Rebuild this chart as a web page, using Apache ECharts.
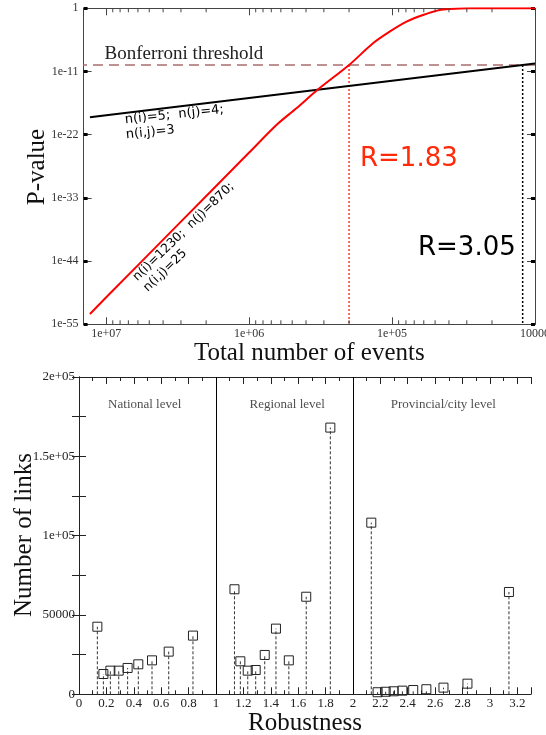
<!DOCTYPE html>
<html><head><meta charset="utf-8">
<script src="https://cdn.jsdelivr.net/npm/echarts@6/dist/echarts.min.js"></script>
<style>html,body{margin:0;padding:0;background:#fff}#c{width:546px;height:735px}</style>
</head><body><div id="c"></div>
<script>
// ---------- Top panel: P-value vs total number of events ----------
const redN = [1.30e7, 1.0e7, 3.16e6, 1.0e6, 6.31e5, 4.67e5, 3.29e5, 2.0e5, 1.36e5, 1.04e5, 7.93e4, 6.07e4, 4.65e4, 3.95e4, 2.86e4, 1.0e4];
const redP = [6.3e-54, 5.0e-51, 2.0e-38, 7.9e-26, 7.9e-21, 4.0e-18, 7.9e-15, 1.35e-10, 8.1e-7, 8.5e-5, 4.7e-3, 6.8e-2, 0.50, 0.76, 1, 1];
const blackN = [1.30e7, 1.0e7, 1.0e6, 1.0e5, 1.0e4];
const blackP = [1.1e-19, 2.5e-19, 2.5e-16, 2.5e-13, 2.5e-10];
const bonferroniP = 1.35e-10;
const nRangeTop = [1.0e4, 1.44e7];
const pRangeTop = [9.99e-56, 1];
const cutRed = 2.0e5;     // R=1.83
const cutBlack = 1.22e4;  // R=3.05
const minorTickN = [2e4,3e4,4e4,5e4,6e4,7e4,8e4,9e4, 2e5,3e5,4e5,5e5,6e5,7e5,8e5,9e5, 2e6,3e6,4e6,5e6,6e6,7e6,8e6,9e6];

// ---------- Bottom panel: number of links vs robustness ----------
const robustness = [0.134, 0.178, 0.229, 0.290, 0.355, 0.433, 0.533, 0.655, 0.832,
                    1.135, 1.178, 1.232, 1.290, 1.356, 1.438, 1.532, 1.659, 1.835,
                    2.134, 2.180, 2.239, 2.297, 2.361, 2.440, 2.536, 2.661, 2.836, 3.139];
const links = [42600, 12800, 14900, 14900, 16600, 18900, 21400, 26900, 37000,
               66200, 20800, 14900, 15300, 24800, 41400, 21400, 61500, 168100,
               108200, 1300, 1600, 1900, 2300, 2700, 3200, 4200, 6700, 64500];
const levelSeparators = [1, 2];
const levelNames = ['National level', 'Regional level', 'Provincial/city level'];
const levelNameX = [0.48, 1.52, 2.66];
const levelNameY = 182900;

const SERIF = "'Liberation Serif', 'Times New Roman', serif";
const SANS = "'DejaVu Sans', sans-serif";
const AX = '#222';
const AXT = '#444';

const chart = echarts.init(document.getElementById('c'), null, {renderer: 'canvas'});

function logLabelX(v) {
  const e = Math.log10(v);
  const r = Math.round(e);
  if (Math.abs(e - r) > 1e-4) return '';
  return r === 4 ? '10000' : '1e+0' + r;
}
function logLabelY(v) {
  const e = Math.log10(v);
  const r = Math.round(e);
  if (Math.abs(e - r) > 1e-4) return '';
  return r === 0 ? '1' : '1e' + r;
}
function linLabelX(v) {
  const k = Math.round(v * 10);
  if (Math.abs(v * 10 - k) > 1e-6 || k % 2) return '';
  return String(k / 10);
}
function linLabelY(v) {
  if (v === 0) return '0';
  if (v >= 1e5) return (v / 1e5) + 'e+05';
  return String(v);
}

const topX = {
  gridIndex: 0, type: 'log', logBase: 10, inverse: true,
  min: nRangeTop[0], max: nRangeTop[1],
  axisLine: {show: true, onZero: false, lineStyle: {color: AXT, width: 1}},
  axisTick: {show: true, inside: true, length: 7, lineStyle: {color: AXT}},
  splitLine: {show: false}
};
const topYbase = {
  gridIndex: 0, type: 'log', logBase: 1e11, min: pRangeTop[0], max: pRangeTop[1],
  splitLine: {show: false}
};

const option = {
  animation: false,
  backgroundColor: '#fff',
  grid: [
    {left: 83.6, right: 11, top: 8.3, height: 316, containLabel: false, outerBoundsMode: 'none'},
    {left: 79, right: 15, top: 377, height: 317.3, containLabel: false, outerBoundsMode: 'none'}
  ],
  xAxis: [
    Object.assign({}, topX, {
      position: 'bottom',
      name: 'Total number of events', nameLocation: 'middle', nameGap: 15,
      nameTextStyle: {fontFamily: SERIF, fontSize: 25, color: '#111'},
      axisLabel: {formatter: logLabelX, fontFamily: SERIF, fontSize: 12, color: '#333', margin: 4, showMinLabel: true, showMaxLabel: true, hideOverlap: false}
    }),
    Object.assign({}, topX, {position: 'top', axisLabel: {show: false}}),
    {
      gridIndex: 1, type: 'value', min: 0, max: 3.3, interval: 0.2, position: 'bottom',
      name: 'Robustness', nameLocation: 'middle', nameGap: 16,
      nameTextStyle: {fontFamily: SERIF, fontSize: 25, color: '#111'},
      axisLine: {show: true, onZero: false, lineStyle: {color: AX}},
      axisTick: {show: true, inside: true, length: 7, lineStyle: {color: AX}},
      minorTick: {show: true, splitNumber: 2, length: 4, lineStyle: {color: AX}},
      axisLabel: {formatter: linLabelX, fontFamily: SERIF, fontSize: 13, color: '#222', margin: 3},
      splitLine: {show: false}
    },
    {
      gridIndex: 1, type: 'value', min: 0, max: 3.3, interval: 0.2, position: 'top',
      axisLine: {show: true, onZero: false, lineStyle: {color: AX}},
      axisTick: {show: true, inside: true, length: 7, lineStyle: {color: AX}},
      minorTick: {show: true, splitNumber: 2, length: 4, lineStyle: {color: AX}},
      axisLabel: {show: false}, splitLine: {show: false}
    }
  ],
  yAxis: [
    Object.assign({}, topYbase, {
      position: 'left',
      axisLine: {show: true, lineStyle: {color: AXT}},
      axisTick: {show: true, inside: true, length: 8, lineStyle: {color: AXT}},
      axisLabel: {formatter: logLabelY, fontFamily: SERIF, fontSize: 12, color: '#333', margin: 5, showMinLabel: true, showMaxLabel: true, hideOverlap: false}
    }),
    Object.assign({}, topYbase, {
      position: 'right',
      axisLine: {show: true, lineStyle: {color: AXT}},
      axisTick: {show: true, inside: true, length: 8, lineStyle: {color: AXT}},
      axisLabel: {show: false}
    }),
    Object.assign({}, topYbase, {
      position: 'left', axisLine: {show: false},
      axisTick: {show: true, inside: true, length: 4, lineStyle: {color: '#000', width: 3}},
      axisLabel: {show: false}
    }),
    Object.assign({}, topYbase, {
      position: 'right', axisLine: {show: false},
      axisTick: {show: true, inside: true, length: 4, lineStyle: {color: '#000', width: 3}},
      axisLabel: {show: false}
    }),
    {
      gridIndex: 1, type: 'value', min: 0, max: 200000, interval: 50000, position: 'left',
      axisLine: {show: true, lineStyle: {color: AX}},
      axisTick: {show: true, inside: true, length: 7, lineStyle: {color: AX}},
      minorTick: {show: true, splitNumber: 2, length: 7, lineStyle: {color: AX}},
      axisLabel: {formatter: linLabelY, fontFamily: SERIF, fontSize: 13, color: '#222', margin: 4},
      splitLine: {show: false}
    },
    {
      gridIndex: 1, type: 'value', min: 0, max: 200000, interval: 50000, position: 'right',
      axisLine: {show: true, lineStyle: {color: AX}},
      axisTick: {show: true, inside: true, length: 7, lineStyle: {color: AX}},
      minorTick: {show: true, splitNumber: 2, length: 7, lineStyle: {color: AX}},
      axisLabel: {show: false}, splitLine: {show: false}
    }
  ],
  series: [
    {
      type: 'line', xAxisIndex: 0, yAxisIndex: 0, z: 3,
      data: [[nRangeTop[0], bonferroniP], [nRangeTop[1], bonferroniP]],
      showSymbol: false, symbol: 'none',
      lineStyle: {color: '#bf9090', width: 2, type: [10, 6]}
    },
    {
      type: 'line', xAxisIndex: 0, yAxisIndex: 0, z: 4,
      data: [[cutRed, bonferroniP], [cutRed, pRangeTop[0]]],
      symbol: 'none', lineStyle: {color: '#ff3a1a', width: 1.5, type: [2, 2]}
    },
    {
      type: 'line', xAxisIndex: 0, yAxisIndex: 0, z: 4,
      data: [[cutBlack, bonferroniP], [cutBlack, pRangeTop[0]]],
      symbol: 'none', lineStyle: {color: '#000', width: 1.5, type: [2, 2]}
    },
    {
      type: 'line', xAxisIndex: 0, yAxisIndex: 0, z: 5,
      data: blackN.map((n, i) => [n, blackP[i]]),
      symbol: 'none', lineStyle: {color: '#000', width: 2}
    },
    {
      type: 'line', xAxisIndex: 0, yAxisIndex: 0, z: 6,
      data: redN.map((n, i) => [n, redP[i]]),
      symbol: 'none', smooth: 0.3,
      lineStyle: {color: '#ff0000', width: 2}
    },
    {
      type: 'custom', xAxisIndex: 0, yAxisIndex: 0, z: 7, clip: false,
      data: minorTickN.map(n => [n, 1e-20]),
      renderItem: function (params, api) {
        const cs = params.coordSys;
        const x = api.coord([api.value(0), api.value(1)])[0];
        const top = cs.y, bot = cs.y + cs.height;
        return {type: 'group', children: [
          {type: 'line', shape: {x1: x, y1: bot, x2: x, y2: bot - 4}, style: {stroke: AXT, lineWidth: 1}},
          {type: 'line', shape: {x1: x, y1: top, x2: x, y2: top + 4}, style: {stroke: AXT, lineWidth: 1}}
        ]};
      }
    },
    {
      type: 'line', xAxisIndex: 2, yAxisIndex: 4, data: [], symbol: 'none',
      markLine: {
        silent: true, symbol: 'none', label: {show: false},
        lineStyle: {color: '#000', width: 1, type: 'solid'},
        data: levelSeparators.map(v => ({xAxis: v}))
      }
    },
    {
      type: 'custom', xAxisIndex: 2, yAxisIndex: 4, z: 5,
      data: robustness.map((r, i) => [r, links[i]]),
      renderItem: function (params, api) {
        const p = api.coord([api.value(0), api.value(1)]);
        const b = api.coord([api.value(0), 0]);
        const s = 9;
        return {type: 'group', children: [
          {type: 'line', shape: {x1: b[0], y1: b[1], x2: p[0], y2: p[1]}, style: {stroke: '#333', lineWidth: 1, lineDash: [3, 2]}},
          {type: 'rect', shape: {x: p[0] - s / 2, y: p[1] - s / 2, width: s, height: s}, style: {stroke: '#222', lineWidth: 1, fill: null}}
        ]};
      }
    },
    {
      type: 'scatter', xAxisIndex: 2, yAxisIndex: 4, symbolSize: 0, silent: true,
      data: levelNames.map((n, i) => ({value: [levelNameX[i], levelNameY], name: n})),
      label: {show: true, position: 'inside', formatter: '{b}', fontFamily: SERIF, fontSize: 13, color: '#222'}
    }
  ],
  graphic: [
    {type: 'text', x: 37, y: 167, rotation: Math.PI / 2, style: {text: 'P-value', font: '25px ' + SERIF, fill: '#111', align: 'center', verticalAlign: 'middle'}},
    {type: 'text', x: 24, y: 535, rotation: Math.PI / 2, style: {text: 'Number of links', font: '25px ' + SERIF, fill: '#111', align: 'center', verticalAlign: 'middle'}},
    {type: 'text', x: 104.5, y: 54, style: {text: 'Bonferroni threshold', font: '19px ' + SERIF, fill: '#222', align: 'left', verticalAlign: 'middle'}},
    {type: 'text', x: 360, y: 159, style: {text: 'R=1.83', font: '26px ' + SANS, fill: '#ff2a0a', align: 'left', verticalAlign: 'middle'}},
    {type: 'text', x: 418, y: 248, style: {text: 'R=3.05', font: '26px ' + SANS, fill: '#000', align: 'left', verticalAlign: 'middle'}},
    {type: 'text', x: 125, y: 120, rotation: 0.105, style: {text: 'n(i)=5;  n(j)=4;', font: '13px ' + SANS, fill: '#000', align: 'left', verticalAlign: 'middle'}},
    {type: 'text', x: 126, y: 135, rotation: 0.105, style: {text: 'n(i,j)=3', font: '13px ' + SANS, fill: '#000', align: 'left', verticalAlign: 'middle'}},
    {type: 'text', x: 135, y: 279, rotation: 0.77, style: {text: 'n(i)=1230;  n(j)=870;', font: '12.5px ' + SANS, fill: '#000', align: 'left', verticalAlign: 'middle'}},
    {type: 'text', x: 145.6, y: 289.6, rotation: 0.77, style: {text: 'n(i,j)=25', font: '12.5px ' + SANS, fill: '#000', align: 'left', verticalAlign: 'middle'}}
  ]
};
chart.setOption(option);
</script>
</body></html>
